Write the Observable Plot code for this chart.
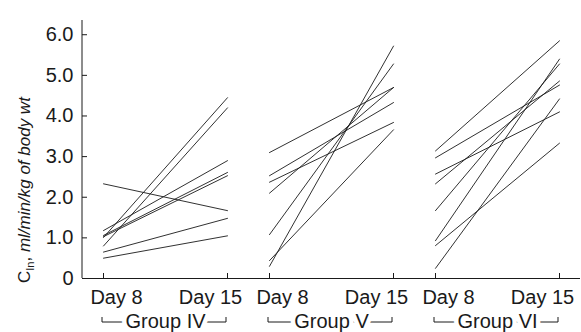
<!DOCTYPE html>
<html><head><meta charset="utf-8">
<script src="https://cdn.jsdelivr.net/npm/d3@7"></script>
<script src="https://cdn.jsdelivr.net/npm/@observablehq/plot@0.6"></script>
<style>
html,body{margin:0;padding:0;background:#fff;overflow:hidden}
#chart svg{display:block}
</style></head><body><div id="chart"></div>
<script>
const groups = ["IV", "V", "VI"];
const days = ["Day 8", "Day 15"];
const yTicks = [0, 1, 2, 3, 4, 5, 6];

const groupIV_day8  = [2.33, 0.65, 0.50, 1.01, 0.80, 1.18, 1.06, 1.03];
const groupIV_day15 = [1.67, 1.48, 1.05, 4.45, 4.20, 2.90, 2.61, 2.53];
const groupV_day8   = [3.10, 2.53, 2.37, 2.10, 1.08, 0.44, 0.30];
const groupV_day15  = [4.70, 4.33, 3.84, 4.70, 5.28, 3.66, 5.72];
const groupVI_day8  = [3.14, 2.97, 2.57, 2.33, 1.67, 0.93, 0.81, 0.25];
const groupVI_day15 = [5.85, 4.76, 4.10, 4.86, 5.28, 5.40, 3.33, 4.42];

const seriesByGroup = {
  IV: [groupIV_day8, groupIV_day15],
  V: [groupV_day8, groupV_day15],
  VI: [groupVI_day8, groupVI_day15]
};
const rows = [];
for (const g of groups) {
  const [a, b] = seriesByGroup[g];
  a.forEach((v, i) => {
    rows.push({group: g, id: g + i, day: days[0], value: v});
    rows.push({group: g, id: g + i, day: days[1], value: b[i]});
  });
}
const dayLabels = groups.flatMap(g => days.map(d => ({group: g, day: d})));

const font = "'Liberation Sans', Arial, Helvetica, sans-serif";
const ink = "#1a1a1a";

const plot = Plot.plot({
  width: 581, height: 332,
  marginLeft: 81, marginRight: 0, marginTop: 20, marginBottom: 54,
  style: {fontFamily: font, fontSize: "20px", color: ink, background: "white"},
  fx: {domain: groups, padding: 0, axis: null},
  x: {type: "point", domain: days, padding: 0.168, axis: null},
  y: {domain: [0, 6.35], axis: null},
  marks: [
    Plot.ruleY([0], {stroke: ink, strokeWidth: 1}),
    Plot.text(groups, {fx: d => d, frameAnchor: "bottom", dy: 49, text: d => "Group " + d,
      fill: ink, stroke: "white", strokeWidth: 9, letterSpacing: 1}),
    Plot.axisX({anchor: "bottom", tickSize: 5, dy: -5, tickFormat: () => "", label: null}),
    Plot.text(dayLabels.filter(d => d.day === days[0]), {fx: "group", x: "day", frameAnchor: "bottom",
      dy: 25, dx: 13, text: "day", fill: ink}),
    Plot.text(dayLabels.filter(d => d.day === days[1]), {fx: "group", x: "day", frameAnchor: "bottom",
      dy: 25, dx: -17, text: "day", fill: ink}),
    Plot.axisY({anchor: "left", ticks: yTicks, tickSize: 5, dx: 5, tickFormat: () => "", label: null}),
    Plot.axisY({anchor: "left", ticks: yTicks, tickSize: 0, tickPadding: 9,
      tickFormat: d => d === 0 ? "0" : d3.format(".1f")(d), label: null}),
    Plot.line(rows, {fx: "group", x: "day", y: "value", z: "id", stroke: ink, strokeWidth: 0.9})
  ]
});

document.getElementById("chart").appendChild(plot);

// y-axis line, group brackets and y label, positioned from the library's scales
const fx = plot.scale("fx"), x = plot.scale("x"), y = plot.scale("y");
const svg = d3.select(plot);
const deco = svg.insert("g", ":first-child");
const left = fx.apply(groups[0]);
deco.append("line")
  .attr("x1", left).attr("x2", left)
  .attr("y1", y.apply(y.domain[1])).attr("y2", y.apply(0))
  .attr("stroke", ink).attr("stroke-width", 1);

const by = y.apply(0) + 44;
for (const g of groups) {
  const off = fx.apply(g) - left;
  const x0 = off + x.apply(days[0]);
  const x1 = off + x.apply(days[1]);
  deco.append("path")
    .attr("d", `M${x0},${by - 5}V${by}H${x1}V${by - 5}`)
    .attr("fill", "none").attr("stroke", ink).attr("stroke-width", 1);
}

const lab = svg.append("text")
  .attr("transform", `translate(30,${y.apply(0) + 5}) rotate(-90)`)
  .attr("text-anchor", "start")
  .attr("font-family", font).attr("font-size", 17).attr("fill", ink);
lab.append("tspan").text("C");
lab.append("tspan").attr("font-size", 11).attr("dy", 4).text("In");
lab.append("tspan").attr("dy", -4).text(", ");
lab.append("tspan").attr("font-style", "italic").text("ml/min/kg of body wt");
</script>
</body></html>
